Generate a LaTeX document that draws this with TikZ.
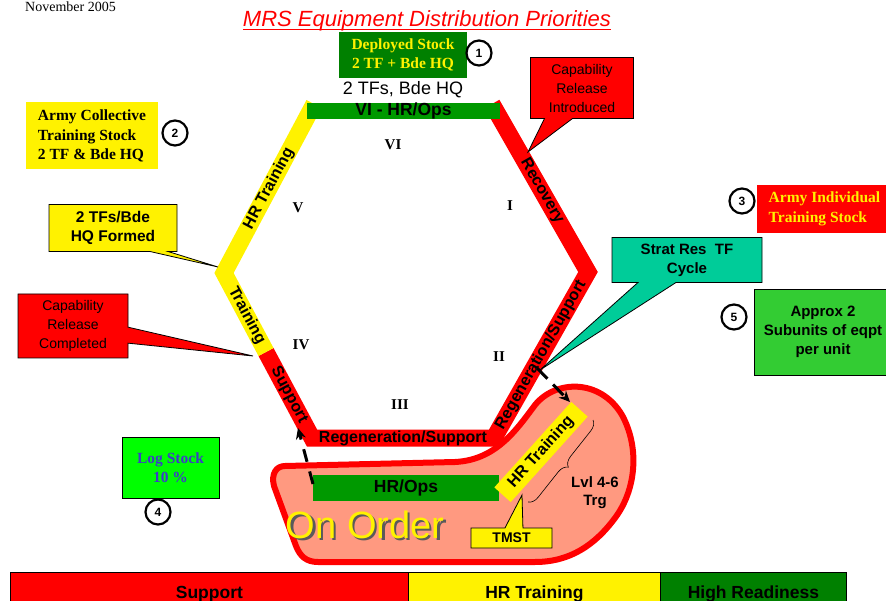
\documentclass[tikz,border=0pt]{standalone}
\usepackage{fontspec}
\setmainfont{Liberation Serif}
\setsansfont{Liberation Sans}
\usetikzlibrary{shapes.callouts,arrows.meta,decorations.pathreplacing}
\definecolor{hexgreen}{RGB}{0,153,0}
\definecolor{darkgrn}{RGB}{0,128,0}
\definecolor{stratteal}{RGB}{0,204,153}
\definecolor{approxgreen}{RGB}{51,204,51}
\definecolor{loggreen}{RGB}{0,255,0}
\definecolor{logblue}{RGB}{60,60,200}
\definecolor{ordersalmon}{RGB}{255,153,128}
\definecolor{shadowgray}{RGB}{90,90,90}
\newcommand{\setpx}[2]{\fontsize{#1}{#2}\selectfont}
\newcommand{\shadowtext}[1]{\rlap{\kern2.5pt\raisebox{-2.5pt}{\color{shadowgray}#1}}#1}
\tikzset{
  band/.style={line width=17pt, line cap=butt, line join=miter},
  bandlabel/.style={font=\sffamily\bfseries\setpx{16}{16}, sloped, inner sep=0pt},
  roman/.style={font=\rmfamily\bfseries\setpx{15}{15}},
  numcirc/.style={circle, draw, line width=2.2pt, minimum size=25pt, inner sep=0pt,
    font=\sffamily\bfseries\setpx{12}{12}},
  stockbox/.style={inner sep=0pt, font=\rmfamily\bfseries\setpx{15.5}{19.5}},
  calloutbox/.style={rectangle callout, draw, line width=0.8pt, inner sep=0pt,
    align=center, font=\sffamily\setpx{14}{19}},
  legend/.style={draw, line width=0.8pt, minimum height=44pt, anchor=north west,
    inner sep=0pt, font=\sffamily\bfseries\setpx{17.5}{17.5}}
}
\begin{document}
\begin{tikzpicture}[x=1pt, y=-1pt]
  \useasboundingbox (0,0) rectangle (886,601);
  \node[font=\rmfamily\setpx{14}{14}, anchor=base west, inner sep=0pt] (date) at (25,12) {November 2005};
  \node[font=\sffamily\itshape\setpx{22}{22}, text=red, anchor=base, inner sep=0pt] (title) at (427,27)
    {MRS Equipment Distribution Priorities};
  \draw[red, line width=1pt] ([yshift=-3pt]title.base west) -- ([yshift=-3pt]title.base east);
  \node[stockbox, fill=darkgrn, text=yellow, minimum width=128pt, minimum height=46pt, align=center]
    (deployed) at (403,55) {Deployed Stock\\2 TF + Bde HQ};
  \node[numcirc] (n1) at (479,53) {1};
  \node[font=\sffamily\setpx{18}{18}] (topunits) at (403,90) {2 TFs, Bde HQ};

  \coordinate (A) at (314,104);
  \coordinate (B) at (492,104);
  \coordinate (C) at (588,272);
  \coordinate (D) at (494,438);
  \coordinate (E) at (312,438);
  \coordinate (F) at (224,273);
  \coordinate (S) at (266,352);
  \draw[band, red] (B) -- (C) -- (D) -- (E) -- (S);
  \draw[band, yellow] (S) -- (F) -- (A);
  \node[fill=hexgreen, minimum width=193pt, minimum height=16pt, inner sep=0pt,
    font=\sffamily\bfseries\setpx{17.5}{17.5}] (topbar) at (403.5,111) {VI - HR/Ops};
  \path (F) -- (A) node[bandlabel, midway] (lblhrtrain) {HR Training};
  \path (B) -- (C) node[bandlabel, pos=.52] (lblrecovery) {Recovery};
  \path (D) -- (C) node[bandlabel, midway] (lblregen) {Regeneration/Support};
  \path (F) -- (S) node[bandlabel, pos=.54] (lbltrain) {Training};
  \path (S) -- (E) node[bandlabel, midway] (lblsupport) {Support};
  \path (E) -- (D) node[bandlabel, midway] (lblregenbot) {Regeneration/Support};

  \node[roman] (r6) at (393,145) {VI};
  \node[roman] (r5) at (298,208) {V};
  \node[roman] (r1) at (510,206) {I};
  \node[roman] (r4) at (301,345) {IV};
  \node[roman] (r2) at (499,357) {II};
  \node[roman] (r3) at (400,405) {III};

  \coordinate (introtip) at (528,152);
  \coordinate (formedtip) at (218,267);
  \coordinate (completedtip) at (253,356);
  \coordinate (strattip) at (540,370);
  \coordinate (tmsttip) at (522,495);
  \node[calloutbox, fill=red, minimum width=103pt, minimum height=61pt,
    callout absolute pointer={(introtip)}, callout pointer width=28pt]
    (capintro) at (582,88) {Capability\\Release\\Introduced};
  \node[stockbox, fill=yellow, minimum width=132pt, minimum height=67pt, align=left]
    (armycoll) at (92,136) {Army Collective\\Training Stock\\2 TF \& Bde HQ};
  \node[numcirc] (n2) at (175,133) {2};
  \node[calloutbox, fill=yellow, font=\sffamily\bfseries\setpx{15.5}{18.5}, minimum width=128pt,
    minimum height=47pt, callout absolute pointer={(formedtip)}, callout pointer width=18pt]
    (formed) at (113,228) {2 TFs/Bde\\HQ Formed};
  \node[calloutbox, fill=red, minimum width=110pt, minimum height=64pt,
    callout absolute pointer={(completedtip)}, callout pointer width=16pt]
    (capdone) at (73,326) {Capability\\Release\\Completed};
  \node[calloutbox, fill=stratteal, font=\sffamily\bfseries\setpx{15}{19}, minimum width=150pt,
    minimum height=45pt, callout absolute pointer={(strattip)}, callout pointer width=38pt]
    (stratres) at (687,260) {Strat Res\ \ TF\\Cycle};
  \node[stockbox, fill=red, text=yellow, minimum width=135pt, minimum height=48pt, align=left]
    (armyind) at (824.5,209) {Army Individual\\Training Stock};
  \node[numcirc] (n3) at (742,201) {3};
  \node[numcirc] (n5) at (734,317) {5};
  \node[draw, line width=0.8pt, fill=approxgreen, minimum width=138pt, minimum height=86pt,
    font=\sffamily\bfseries\setpx{15}{19}, align=center] (approx) at (823,332)
    {Approx 2\\Subunits of eqpt\\per unit};
  \node[stockbox, draw, line width=0.8pt, fill=loggreen, text=logblue, minimum width=97pt,
    minimum height=61pt, align=center] (logstock) at (170.5,467.5) {Log Stock\\10 \%};
  \node[numcirc] (n4) at (158,512) {4};

  \draw[red, line width=6pt, fill=ordersalmon, line join=round]
    (285,466) -- (455,462) .. controls (495,460) and (515,432) .. (535,405)
    .. controls (555,380) and (600,378) .. (622,415)
    .. controls (640,448) and (636,490) .. (615,518)
    .. controls (595,545) and (570,562) .. (535,562) -- (318,562)
    .. controls (306,562) and (300,556) .. (296,546) -- (274,486)
    .. controls (271,474) and (276,466) .. (285,466) -- cycle;
  \node[fill=hexgreen, minimum width=186pt, minimum height=26pt, inner sep=0pt,
    font=\sffamily\bfseries\setpx{17.5}{17.5}] (hrops) at (406,488) {HR/Ops};
  \node[fill=yellow, rotate=48, minimum width=115pt, minimum height=22pt, inner sep=0pt,
    font=\sffamily\bfseries\setpx{16}{16}] (hrtrain) at (541,452) {HR Training};
  \coordinate (bracetop) at (593,420);
  \coordinate (bracebot) at (528,502);
  \draw[decorate, decoration={brace, amplitude=10pt}, line width=0.6pt] (bracetop) -- (bracebot);
  \node[font=\sffamily\bfseries\setpx{15}{18}, align=center] (lvltrg) at (595,493) {Lvl 4-6\\Trg};
  \node[font=\sffamily\setpx{38}{38}, text=yellow] (onorder) at (365,526) {\shadowtext{On Order}};
  \node[calloutbox, fill=yellow, font=\sffamily\bfseries\setpx{14}{14}, minimum width=81pt,
    minimum height=20pt, callout absolute pointer={(tmsttip)}, callout pointer width=18pt]
    (tmst) at (511.5,538) {TMST};

  \coordinate (uparrowfrom) at (313,484);
  \coordinate (uparrowto) at (298,428);
  \coordinate (downarrowfrom) at (537,368);
  \coordinate (downarrowto) at (570,402);
  \draw[line width=3pt, dash pattern=on 13pt off 10pt, -{Stealth[length=11pt, width=10pt]}]
    (uparrowfrom) -- (uparrowto);
  \draw[line width=3pt, dash pattern=on 15pt off 8pt, -{Stealth[length=11pt, width=10pt]}]
    (downarrowfrom) -- (downarrowto);

  \node[legend, fill=red, minimum width=398pt] (legsupport) at (10,572) {Support};
  \node[legend, fill=yellow, minimum width=252pt] (leghr) at (408,572) {HR Training};
  \node[legend, fill=darkgrn, minimum width=186pt] (leghigh) at (660,572) {High Readiness};
\end{tikzpicture}
\end{document}
